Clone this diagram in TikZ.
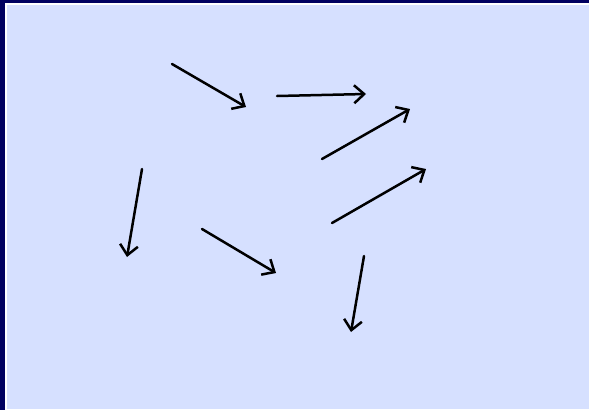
\documentclass[tikz,border=0pt]{standalone}
\usetikzlibrary{arrows.meta}
\definecolor{frame}{RGB}{0,0,96}
\definecolor{paper}{RGB}{214,224,255}
\tikzset{vec/.style={line width=2.5pt, line cap=round, -{Straight Barb[length=10pt,width=18pt]}}}
\begin{document}
\begin{tikzpicture}[x=1pt,y=-1pt]
  \useasboundingbox (0,0) rectangle (589,410);
  % rand
  \fill[frame] (0,0) rectangle (589,410);
  \fill[white] (5,3) rectangle (589,410);
  \fill[paper] (7,5) rectangle (589,408.5);
  % begin- en eindpunten
  \coordinate (s1) at (172,64);  \coordinate (e1) at (246,107);
  \coordinate (s2) at (277,96);  \coordinate (e2) at (366,94);
  \coordinate (s3) at (322,159); \coordinate (e3) at (410,109);
  \coordinate (s4) at (142,169); \coordinate (e4) at (127,257);
  \coordinate (s5) at (202,229); \coordinate (e5) at (276,273);
  \coordinate (s6) at (332,223); \coordinate (e6) at (426,169);
  \coordinate (s7) at (364,256); \coordinate (e7) at (351,332);
  % pijlen
  \draw[vec] (s1) -- (e1);
  \draw[vec] (s2) -- (e2);
  \draw[vec] (s3) -- (e3);
  \draw[vec] (s4) -- (e4);
  \draw[vec] (s5) -- (e5);
  \draw[vec] (s6) -- (e6);
  \draw[vec] (s7) -- (e7);
\end{tikzpicture}
\end{document}
